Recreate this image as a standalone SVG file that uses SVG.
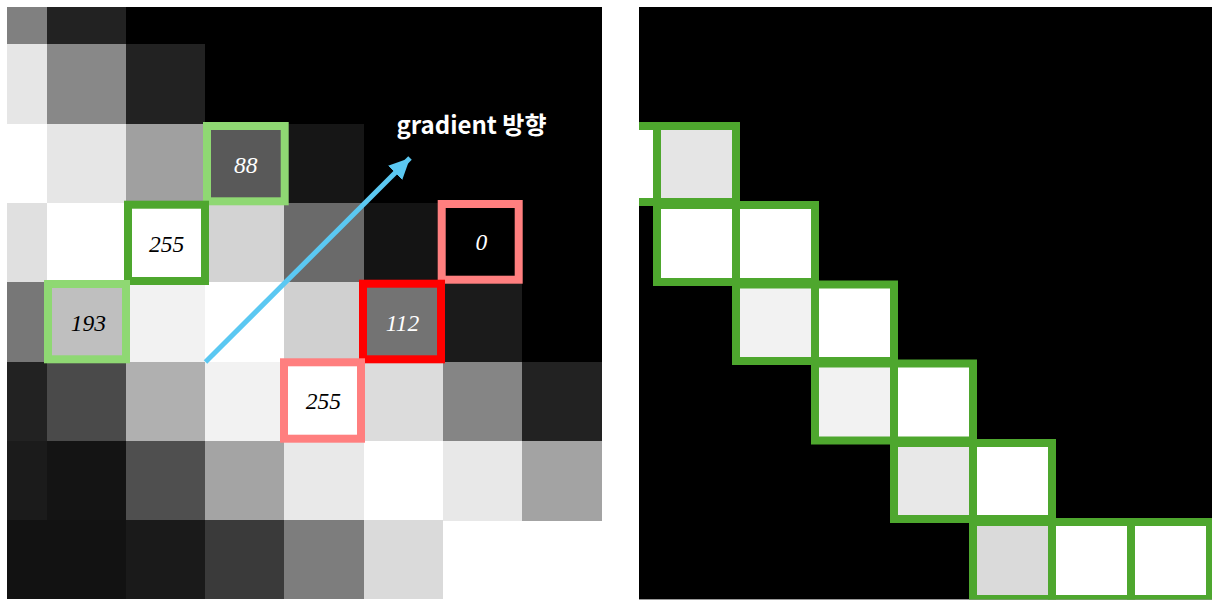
<svg xmlns="http://www.w3.org/2000/svg" width="1216" height="612" viewBox="0 0 1216 612">
<style>
.num{font-family:"Liberation Serif","DejaVu Serif",serif;font-style:italic;font-size:23.5px;text-anchor:middle}
.w{fill:#ffffff}.b{fill:#000000}
.lg{fill:none;stroke:#8fd873;stroke-width:8}
.dg{fill:none;stroke:#4ea72e;stroke-width:8}
.pk{fill:none;stroke:#ff7f7f;stroke-width:8}
.rd{fill:none;stroke:#ff0000;stroke-width:8}
.rb{stroke:#4ea72e;stroke-width:8}
.lbl{font-family:"Noto Sans CJK KR","Noto Sans",sans-serif;font-weight:bold;font-size:24px;fill:#ffffff}
#left-grid rect{shape-rendering:crispEdges}
</style>
<defs>
<marker id="ah" markerUnits="userSpaceOnUse" markerWidth="26" markerHeight="22" refX="21" refY="10" orient="auto">
<polygon points="0,0 21,10 0,20" fill="#5bc8f2"/>
</marker>
<clipPath id="rc"><rect x="639" y="7" width="573" height="592.4"/></clipPath>
</defs>
<rect width="1216" height="612" fill="#ffffff"/>
<g id="left-grid">
<rect x="7" y="7" width="595" height="40" fill="#808080"/>
<rect x="46.5" y="7" width="80" height="38" fill="#222222"/>
<rect x="125.8" y="7" width="476" height="38" fill="#000000"/>
<!-- row 1 -->
<rect x="7" y="44.3" width="40" height="80" fill="#e6e6e6"/>
<rect x="46.5" y="44.3" width="80" height="80" fill="#888888"/>
<rect x="125.8" y="44.3" width="80" height="80" fill="#222222"/>
<rect x="205.1" y="44.3" width="397" height="80" fill="#000000"/>
<!-- row 2 -->
<rect x="7" y="123.6" width="40" height="80" fill="#ffffff"/>
<rect x="46.5" y="123.6" width="80" height="80" fill="#e6e6e6"/>
<rect x="125.8" y="123.6" width="80" height="80" fill="#a0a0a0"/>
<rect x="205.1" y="123.6" width="80" height="80" fill="#595959"/>
<rect x="284.4" y="123.6" width="80" height="80" fill="#161616"/>
<rect x="363.7" y="123.6" width="238" height="80" fill="#000000"/>
<!-- row 3 -->
<rect x="7" y="202.9" width="40" height="80" fill="#e0e0e0"/>
<rect x="46.5" y="202.9" width="80" height="80" fill="#ffffff"/>
<rect x="125.8" y="202.9" width="80" height="80" fill="#ffffff"/>
<rect x="205.1" y="202.9" width="80" height="80" fill="#d3d3d3"/>
<rect x="284.4" y="202.9" width="80" height="80" fill="#6a6a6a"/>
<rect x="363.7" y="202.9" width="80" height="80" fill="#141414"/>
<rect x="443" y="202.9" width="159" height="80" fill="#000000"/>
<!-- row 4 -->
<rect x="7" y="282.2" width="40" height="80" fill="#777777"/>
<rect x="46.5" y="282.2" width="80" height="80" fill="#bfbfbf"/>
<rect x="125.8" y="282.2" width="80" height="80" fill="#f2f2f2"/>
<rect x="205.1" y="282.2" width="80" height="80" fill="#ffffff"/>
<rect x="284.4" y="282.2" width="80" height="80" fill="#d0d0d0"/>
<rect x="363.7" y="282.2" width="80" height="80" fill="#737373"/>
<rect x="443" y="282.2" width="80" height="80" fill="#1b1b1b"/>
<rect x="522.3" y="282.2" width="79.3" height="80" fill="#000000"/>
<!-- row 5 -->
<rect x="7" y="361.5" width="40" height="80" fill="#222222"/>
<rect x="46.5" y="361.5" width="80" height="80" fill="#4a4a4a"/>
<rect x="125.8" y="361.5" width="80" height="80" fill="#b0b0b0"/>
<rect x="205.1" y="361.5" width="80" height="80" fill="#f2f2f2"/>
<rect x="284.4" y="361.5" width="80" height="80" fill="#ffffff"/>
<rect x="363.7" y="361.5" width="80" height="80" fill="#dcdcdc"/>
<rect x="443" y="361.5" width="80" height="80" fill="#858585"/>
<rect x="522.3" y="361.5" width="79.3" height="80" fill="#222222"/>
<!-- row 6 -->
<rect x="7" y="440.8" width="40" height="80" fill="#1b1b1b"/>
<rect x="46.5" y="440.8" width="80" height="80" fill="#141414"/>
<rect x="125.8" y="440.8" width="80" height="80" fill="#4f4f4f"/>
<rect x="205.1" y="440.8" width="80" height="80" fill="#a4a4a4"/>
<rect x="284.4" y="440.8" width="80" height="80" fill="#e9e9e9"/>
<rect x="363.7" y="440.8" width="80" height="80" fill="#ffffff"/>
<rect x="443" y="440.8" width="80" height="80" fill="#e8e8e8"/>
<rect x="522.3" y="440.8" width="79.3" height="80" fill="#a3a3a3"/>
<!-- row 7 -->
<rect x="7" y="520.1" width="40" height="79.3" fill="#121212"/>
<rect x="46.5" y="520.1" width="80" height="79.3" fill="#121212"/>
<rect x="125.8" y="520.1" width="80" height="79.3" fill="#1a1a1a"/>
<rect x="205.1" y="520.1" width="80" height="79.3" fill="#3a3a3a"/>
<rect x="284.4" y="520.1" width="80" height="79.3" fill="#7d7d7d"/>
<rect x="363.7" y="520.1" width="79.3" height="79.3" fill="#dadada"/>
</g>
<g id="node-88"><rect class="lg" x="207" y="126" width="77.7" height="75.3"/><text class="num w" x="245.8" y="173.3">88</text></g>
<g id="node-255a"><rect class="dg" x="128" y="204.7" width="77" height="76.3"/><text class="num b" x="166.7" y="252.3">255</text></g>
<g id="node-193"><rect class="lg" x="48" y="284" width="78" height="75.3"/><text class="num b" x="88.3" y="330.7">193</text></g>
<g id="node-0"><rect class="pk" x="441.7" y="204" width="77" height="75.7"/><text class="num w" x="481.3" y="250">0</text></g>
<g id="node-112"><rect class="rd" x="363" y="283.7" width="78" height="75.6"/><text class="num w" x="402.5" y="331">112</text></g>
<g id="node-255b"><rect class="pk" x="284" y="362.3" width="77" height="76.4"/><text class="num b" x="323.3" y="409.3">255</text></g>
<g id="connectors">
<line x1="205.5" y1="362" x2="410" y2="158" stroke="#5bc8f2" stroke-width="5" marker-end="url(#ah)"/>
</g>
<g id="label"><text class="lbl" x="396.5" y="134">gradient 방향</text></g>
<g id="right-panel">
<rect x="639" y="7" width="573" height="592.4" fill="#000"/>
<g clip-path="url(#rc)">
<rect class="rb" x="578" y="126" width="79" height="76" fill="#ffffff"/>
<rect class="rb" x="657" y="126" width="79" height="76" fill="#e5e5e5"/>
<rect class="rb" x="657" y="205" width="79" height="77" fill="#ffffff"/>
<rect class="rb" x="736" y="205" width="79" height="77" fill="#ffffff"/>
<rect class="rb" x="736" y="284.5" width="79" height="76.5" fill="#f2f2f2"/>
<rect class="rb" x="815" y="284.5" width="79" height="76.5" fill="#ffffff"/>
<rect class="rb" x="815" y="363.5" width="79" height="77" fill="#f2f2f2"/>
<rect class="rb" x="894" y="363.5" width="79" height="77" fill="#ffffff"/>
<rect class="rb" x="894" y="443" width="79" height="76" fill="#e8e8e8"/>
<rect class="rb" x="973" y="443" width="79" height="76" fill="#ffffff"/>
<rect class="rb" x="973" y="522" width="79" height="77" fill="#dadada"/>
<rect class="rb" x="1052" y="522" width="79" height="77" fill="#ffffff"/>
<rect class="rb" x="1131" y="522" width="79" height="77" fill="#ffffff"/>
</g>
</g>
</svg>
